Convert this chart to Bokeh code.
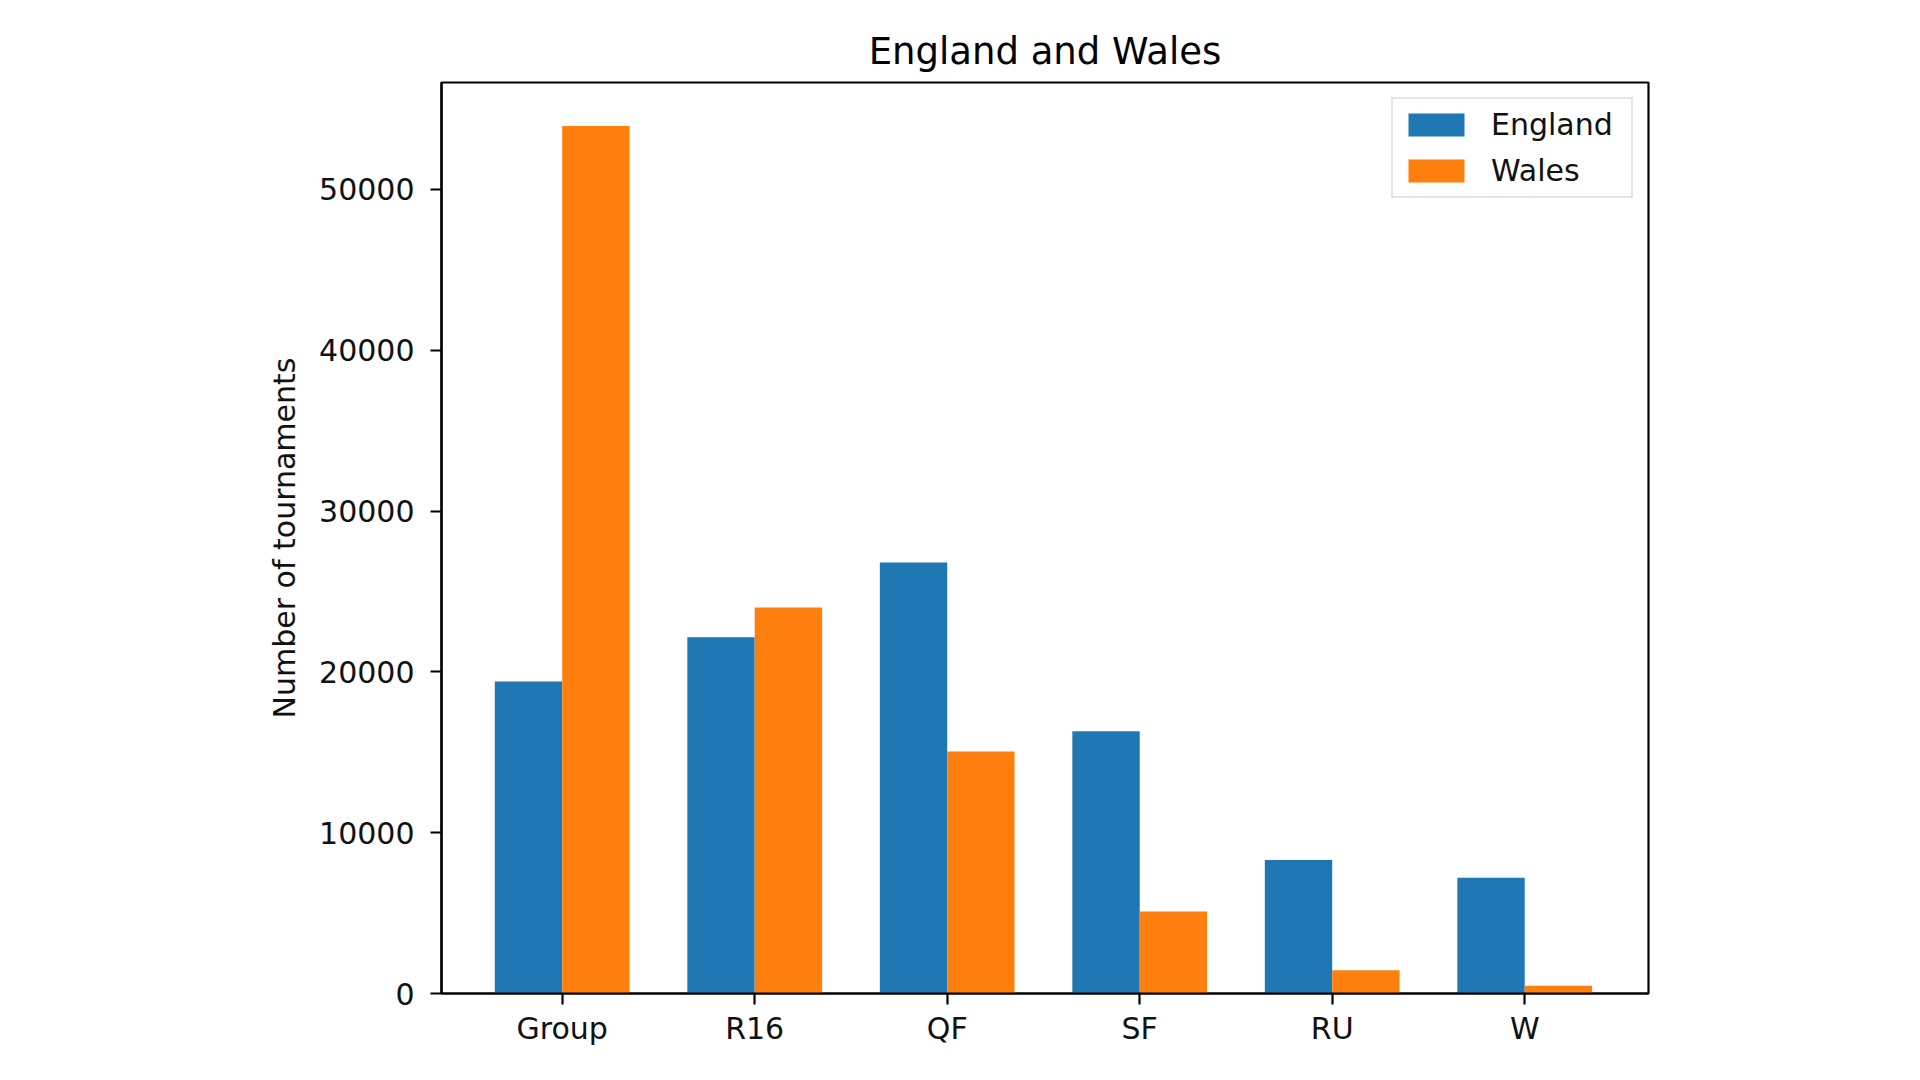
import numpy as np
from bokeh.plotting import figure
from bokeh.models import Range1d, FixedTicker, NumeralTickFormatter, Legend, LegendItem
from bokeh.embed import file_html
from bokeh.resources import INLINE

# ---- data ----
categories = ["Group", "R16", "QF", "SF", "RU", "W"]
england = [19400, 22150, 26800, 16300, 8300, 7200]
wales = [53950, 24000, 15050, 5100, 1450, 480]
y_ticks = [0, 10000, 20000, 30000, 40000, 50000]

BAR_W = 0.35
FONT = "DejaVu Sans"

idx = np.arange(len(categories))

p = figure(
    width=1904, height=1064,
    output_backend="svg", toolbar_location=None,
    x_range=Range1d(-0.627, len(categories) - 1 + 0.643),
    y_range=Range1d(0, max(max(england), max(wales)) * 1.05),
    min_border_left=441, min_border_right=256,
    min_border_top=82, min_border_bottom=71,
    title="England and Wales",
)

r_eng = p.vbar(x=idx - BAR_W / 2, top=england, width=BAR_W, bottom=0,
               fill_color="#1f77b4", line_color=None)
r_wal = p.vbar(x=idx + BAR_W / 2, top=wales, width=BAR_W, bottom=0,
               fill_color="#ff7f0e", line_color=None)

# title
p.title.text_font = FONT
p.title.text_font_size = "37px"
p.title.text_font_style = "normal"
p.title.text_color = "black"
p.title.align = "center"
p.title.standoff = 20

# grid / outline
p.xgrid.visible = False
p.ygrid.visible = False
p.outline_line_color = "black"
p.outline_line_width = 2.2
p.outline_line_alpha = 1.0
p.background_fill_color = "white"
p.border_fill_color = "white"

# x axis
xa = p.xaxis[0]
xa.ticker = FixedTicker(ticks=list(idx))
xa.major_label_overrides = {int(i): c for i, c in zip(idx, categories)}
# y axis
ya = p.yaxis[0]
ya.ticker = FixedTicker(ticks=y_ticks)
ya.formatter = NumeralTickFormatter(format="0")
ya.axis_label = "Number of tournaments"

for ax in (xa, ya):
    ax.axis_line_color = "black"
    ax.axis_line_width = 2.2
    ax.major_tick_out = 11
    ax.major_tick_in = 0
    ax.major_tick_line_width = 2.2
    ax.major_tick_line_color = "black"
    ax.minor_tick_line_color = None
    ax.major_label_text_font = FONT
    ax.major_label_text_font_size = "30px"
    ax.major_label_text_color = "#111111"
    ax.axis_label_text_font = FONT
    ax.axis_label_text_font_size = "30px"
    ax.axis_label_text_font_style = "normal"
    ax.axis_label_text_color = "#111111"

xa.major_label_standoff = 6
ya.major_label_standoff = 16
ya.axis_label_standoff = 14

legend = Legend(
    items=[LegendItem(label="England", renderers=[r_eng]),
           LegendItem(label="Wales", renderers=[r_wal])],
    location="top_right",
    margin=15,
    padding=8,
    spacing=11,
    glyph_width=70,
    glyph_height=29,
    label_standoff=20,
    label_width=132,
    label_text_font=FONT,
    label_text_font_size="30px",
    label_text_color="#111111",
    border_line_color="#cccccc",
    border_line_width=2,
    background_fill_color="white",
    background_fill_alpha=0.8,
)
p.add_layout(legend)

open("out.html", "w").write(file_html(p, INLINE))
